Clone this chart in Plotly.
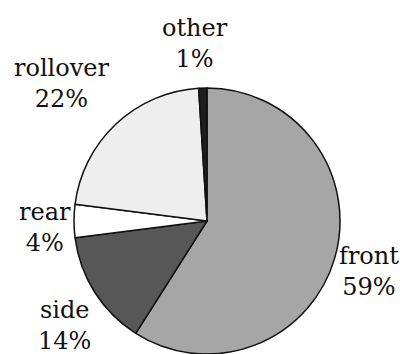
import plotly.graph_objects as go

# Crash type shares (percent), listed clockwise from 12 o'clock
categories = ["front", "side", "rear", "rollover", "other"]
shares = [59, 14, 4, 22, 1]

slice_colors = ["#a6a6a6", "#575757", "#ffffff", "#eeeeee", "#1e1e1e"]

# label anchor positions in pixels (x from left, y from top)
label_pos = {
    "front": (369, 271),
    "side": (64, 325),
    "rear": (45, 228),
    "rollover": (61, 83),
    "other": (195, 43),
}

W, H = 400, 354
cx, cy, r = 207, 221, 133
serif = "DejaVu Serif"

fig = go.Figure(
    go.Pie(
        labels=categories,
        values=shares,
        sort=False,
        direction="clockwise",
        rotation=0,
        textinfo="none",
        hoverinfo="label+percent",
        marker=dict(colors=slice_colors, line=dict(color="#111111", width=1.5)),
        domain=dict(x=[(cx - r) / W, (cx + r) / W], y=[(H - cy - r) / H, (H - cy + r) / H]),
        showlegend=False,
    )
)

for cat, val in zip(categories, shares):
    x, y = label_pos[cat]
    fig.add_annotation(
        x=x / W,
        y=1 - y / H,
        xref="paper",
        yref="paper",
        text=f"{cat}<br>{val}%",
        showarrow=False,
        xanchor="center",
        yanchor="middle",
        font=dict(family=serif, size=24, color="#111111"),
    )

fig.update_layout(
    width=W,
    height=H,
    margin=dict(l=0, r=0, t=0, b=0),
    font=dict(family=serif, color="#111111"),
    paper_bgcolor="white",
    plot_bgcolor="white",
)

fig.write_html("out.html")
